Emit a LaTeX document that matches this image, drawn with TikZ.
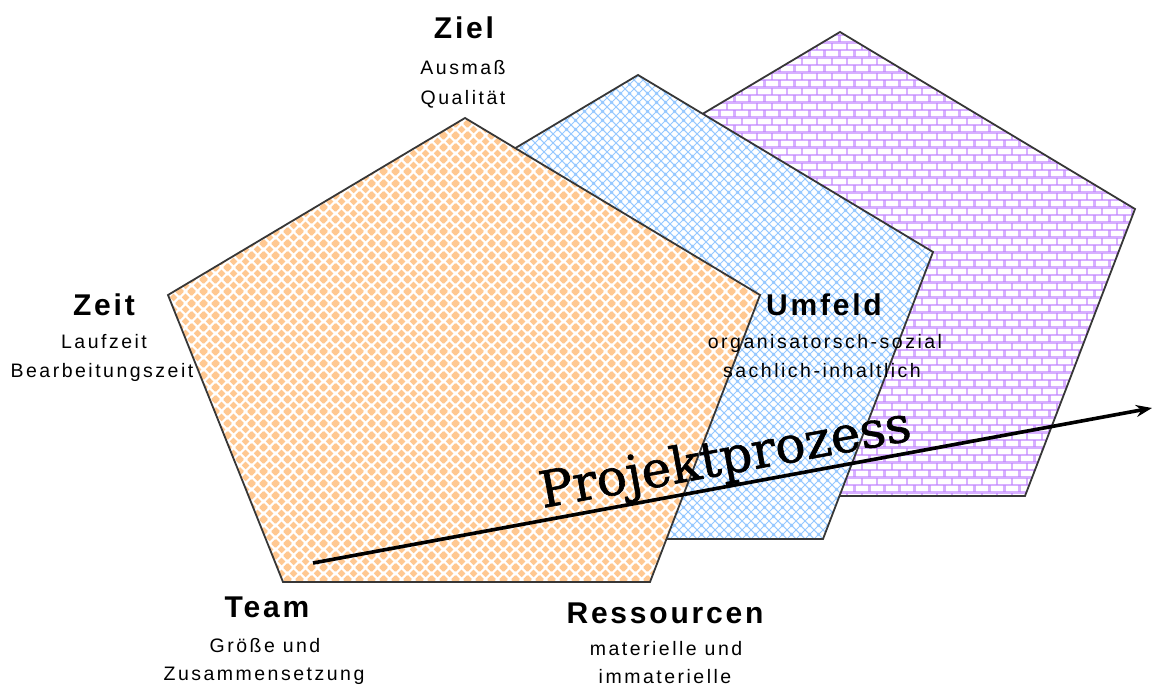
\documentclass[tikz,border=0pt]{standalone}
\usepackage{fontspec}
\usetikzlibrary{patterns,arrows.meta}

\newfontfamily\headfont[LetterSpace=9.3]{Liberation Sans}
\newfontfamily\labelfont[LetterSpace=12.8]{Liberation Sans}
\newfontfamily\processfont[FakeBold=1.2]{DejaVu Serif}

\definecolor{diamondorange}{RGB}{255,200,145}
\definecolor{hatchblue}{RGB}{150,200,255}
\definecolor{brickpurple}{RGB}{195,135,255}
\definecolor{edgegray}{RGB}{55,55,55}

% diagonal checkerboard of small diamonds
\pgfdeclarepatternformonly{diamonds}{\pgfpointorigin}{\pgfpoint{12pt}{12pt}}{\pgfpoint{12pt}{12pt}}{
  \foreach \cx/\cy in {0/0,12/0,0/12,12/12,6/6}{
    \pgfpathmoveto{\pgfpoint{\cx pt}{\cy pt-4.1pt}}
    \pgfpathlineto{\pgfpoint{\cx pt+4.1pt}{\cy pt}}
    \pgfpathlineto{\pgfpoint{\cx pt}{\cy pt+4.1pt}}
    \pgfpathlineto{\pgfpoint{\cx pt-4.1pt}{\cy pt}}
    \pgfpathclose
  }
  \pgfusepath{fill}
}

% thin diagonal crosshatch
\pgfdeclarepatternformonly{finehatch}{\pgfpointorigin}{\pgfpoint{9pt}{9pt}}{\pgfpoint{9pt}{9pt}}{
  \pgfsetlinewidth{1pt}
  \pgfpathmoveto{\pgfpoint{-2pt}{-2pt}}\pgfpathlineto{\pgfpoint{11pt}{11pt}}
  \pgfpathmoveto{\pgfpoint{-2pt}{11pt}}\pgfpathlineto{\pgfpoint{11pt}{-2pt}}
  \pgfpathmoveto{\pgfpoint{7pt}{-2pt}}\pgfpathlineto{\pgfpoint{11pt}{2pt}}
  \pgfpathmoveto{\pgfpoint{-2pt}{7pt}}\pgfpathlineto{\pgfpoint{2pt}{11pt}}
  \pgfpathmoveto{\pgfpoint{-2pt}{2pt}}\pgfpathlineto{\pgfpoint{2pt}{-2pt}}
  \pgfpathmoveto{\pgfpoint{7pt}{11pt}}\pgfpathlineto{\pgfpoint{11pt}{7pt}}
  \pgfusepath{stroke}
}

% brick wall
\pgfdeclarepatternformonly{brickwall}{\pgfpointorigin}{\pgfpoint{15pt}{15pt}}{\pgfpoint{15pt}{15pt}}{
  \pgfsetlinewidth{1.4pt}
  \pgfpathmoveto{\pgfpoint{-1pt}{0pt}}\pgfpathlineto{\pgfpoint{16pt}{0pt}}
  \pgfpathmoveto{\pgfpoint{-1pt}{7.5pt}}\pgfpathlineto{\pgfpoint{16pt}{7.5pt}}
  \pgfpathmoveto{\pgfpoint{-1pt}{15pt}}\pgfpathlineto{\pgfpoint{16pt}{15pt}}
  \pgfpathmoveto{\pgfpoint{0pt}{0pt}}\pgfpathlineto{\pgfpoint{0pt}{7.5pt}}
  \pgfpathmoveto{\pgfpoint{15pt}{0pt}}\pgfpathlineto{\pgfpoint{15pt}{7.5pt}}
  \pgfpathmoveto{\pgfpoint{7.5pt}{7.5pt}}\pgfpathlineto{\pgfpoint{7.5pt}{15pt}}
  \pgfusepath{stroke}
}

% outline of one pentagon
\def\pentapath{(465,118) -- (760,295) -- (650,582) -- (283,582) -- (168,295) -- cycle}

\begin{document}
\begin{tikzpicture}[x=1pt, y=-1pt,
  patch/.style={draw=edgegray, line width=1.8pt, preaction={fill=white}},
  head/.style={anchor=base, inner sep=0pt, font=\headfont\bfseries\fontsize{30}{30}\selectfont},
  sub/.style={anchor=base, inner sep=0pt, font=\labelfont\fontsize{19.5}{19.5}\selectfont}]
  \useasboundingbox (0,0) rectangle (1154,687);

  % Pentagons, back to front
  \draw[patch, pattern=brickwall, pattern color=brickpurple, shift={(375,-86)}] \pentapath;
  \draw[patch, pattern=finehatch, pattern color=hatchblue, shift={(173,-43)}] \pentapath;
  \draw[patch, pattern=diamonds, pattern color=diamondorange] \pentapath;

  % Process arrow
  \coordinate (pstart) at (313,563);
  \coordinate (pend) at (1152,408);
  \draw[line width=3.6pt, -{Stealth[length=16pt, width=12pt]}] (pstart) -- (pend);
  \node[anchor=base, inner sep=0pt, rotate=10.4, font=\processfont\fontsize{50}{50}\selectfont]
    (prozess) at (728,474) {Projektprozess};

  % Corner labels
  \node[head] (ziel) at (464,39) {Ziel};
  \node[sub] (ziel1) at (463,75) {Ausmaß};
  \node[sub] (ziel2) at (463,105) {Qualität};

  \node[head] (zeit) at (104,315) {Zeit};
  \node[sub] (zeit1) at (104,348) {Laufzeit};
  \node[sub] (zeit2) at (102,377) {Bearbeitungszeit};

  \node[head] (umfeld) at (824,315) {Umfeld};
  \node[sub] (umfeld1) at (825,348) {organisatorsch-sozial};
  \node[sub] (umfeld2) at (822,377) {sachlich-inhaltlich};

  \node[head] (team) at (267,617) {Team};
  \node[sub] (team1) at (265,652) {Größe und};
  \node[sub] (team2) at (264,680) {Zusammensetzung};

  \node[head] (ress) at (665,623) {Ressourcen};
  \node[sub] (ress1) at (666,655) {materielle und};
  \node[sub] (ress2) at (665,683) {immaterielle};
\end{tikzpicture}
\end{document}
